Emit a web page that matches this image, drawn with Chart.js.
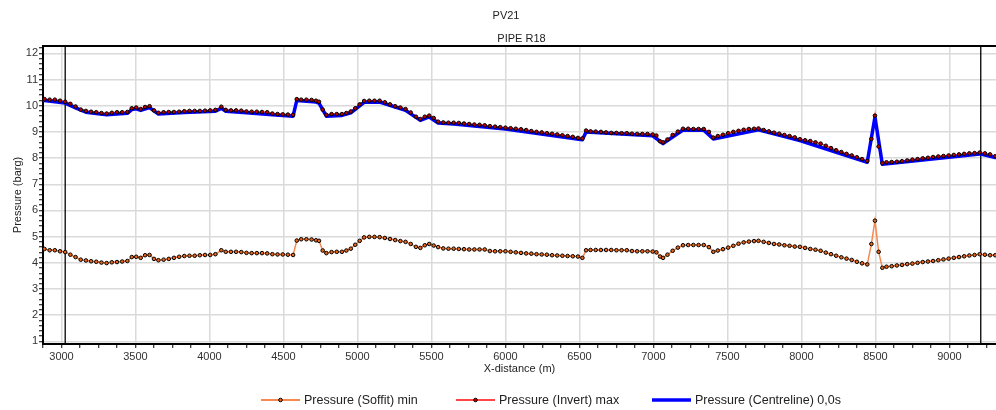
<!DOCTYPE html>
<html>
<head>
<meta charset="utf-8">
<title>PV21 - PIPE R18</title>
<script src="https://cdn.jsdelivr.net/npm/chart.js@4.4.1/dist/chart.umd.min.js"></script>
<style>
  html, body { margin: 0; padding: 0; background: #fff; overflow: hidden; }
  #wrap { width: 996px; height: 410px; position: relative; }
  #profil { display: block; }
</style>
</head>
<body>
<div id="wrap"><canvas id="profil"></canvas></div>
<script>
// --- texts ---
const chartTitle = "PV21";
const pipeName = "PIPE R18";
const xTitle = "X-distance (m)";
const yTitle = "Pressure (barg)";
const seriesNames = ["Pressure (Soffit) min", "Pressure (Invert) max", "Pressure (Centreline) 0,0s"];

// --- profile data (chainage in m, pressure in barg) ---
const distance = [
  2885, 2920, 2955, 2990, 3025, 3060, 3095, 3130, 3165, 3200,
  3235, 3270, 3305, 3340, 3375, 3410, 3445, 3475, 3505, 3535,
  3565, 3595, 3625, 3655, 3690, 3725, 3760, 3795, 3830, 3865,
  3900, 3935, 3970, 4005, 4040, 4080, 4110, 4145, 4180, 4215,
  4250, 4285, 4320, 4355, 4390, 4425, 4460, 4495, 4530, 4565,
  4590, 4620, 4655, 4690, 4720, 4740, 4765, 4790, 4825, 4860,
  4895, 4925, 4955, 4985, 5015, 5045, 5080, 5115, 5150, 5185,
  5220, 5255, 5290, 5325, 5360, 5395, 5425, 5455, 5485, 5515,
  5545, 5580, 5615, 5650, 5685, 5720, 5755, 5790, 5825, 5860,
  5895, 5930, 5965, 6000, 6035, 6070, 6105, 6140, 6175, 6210,
  6245, 6280, 6315, 6350, 6385, 6420, 6455, 6490, 6520, 6545,
  6575, 6610, 6645, 6680, 6715, 6750, 6785, 6820, 6855, 6890,
  6925, 6960, 6995, 7020, 7045, 7065, 7095, 7130, 7165, 7200,
  7235, 7270, 7305, 7340, 7375, 7405, 7435, 7470, 7505, 7540,
  7575, 7610, 7645, 7680, 7710, 7745, 7780, 7815, 7850, 7885,
  7920, 7955, 7990, 8025, 8060, 8095, 8130, 8165, 8200, 8235,
  8270, 8305, 8340, 8375, 8410, 8445, 8473, 8497, 8522, 8547,
  8575, 8610, 8645, 8680, 8715, 8750, 8785, 8820, 8855, 8890,
  8925, 8960, 8995, 9030, 9065, 9100, 9135, 9170, 9205, 9240,
  9275, 9310
];

const soffitMin = [
  4.53, 4.48, 4.48, 4.44, 4.41, 4.31, 4.22, 4.12, 4.09, 4.06,
  4.04, 4.01, 3.99, 4.02, 4.03, 4.05, 4.07, 4.22, 4.23, 4.19,
  4.29, 4.30, 4.15, 4.10, 4.12, 4.15, 4.19, 4.23, 4.26, 4.27,
  4.27, 4.29, 4.30, 4.30, 4.33, 4.48, 4.42, 4.42, 4.42, 4.41,
  4.38, 4.37, 4.37, 4.37, 4.36, 4.33, 4.32, 4.32, 4.31, 4.30,
  4.85, 4.90, 4.90, 4.89, 4.86, 4.84, 4.47, 4.37, 4.41, 4.42,
  4.42, 4.47, 4.54, 4.69, 4.84, 4.97, 4.99, 4.99, 4.98, 4.95,
  4.91, 4.87, 4.83, 4.80, 4.72, 4.61, 4.57, 4.67, 4.72, 4.66,
  4.60, 4.55, 4.54, 4.54, 4.53, 4.52, 4.51, 4.51, 4.51, 4.51,
  4.45, 4.44, 4.44, 4.44, 4.42, 4.40, 4.38, 4.36, 4.35, 4.33,
  4.32, 4.31, 4.29, 4.28, 4.27, 4.26, 4.25, 4.24, 4.19, 4.48,
  4.49, 4.49, 4.49, 4.49, 4.49, 4.48, 4.48, 4.48, 4.45, 4.44,
  4.44, 4.44, 4.43, 4.40, 4.24, 4.19, 4.31, 4.46, 4.58, 4.67,
  4.68, 4.68, 4.68, 4.68, 4.60, 4.42, 4.47, 4.52, 4.58, 4.65,
  4.73, 4.78, 4.81, 4.83, 4.84, 4.80, 4.76, 4.72, 4.70, 4.67,
  4.65, 4.62, 4.61, 4.57, 4.53, 4.50, 4.46, 4.39, 4.33, 4.27,
  4.21, 4.16, 4.11, 4.04, 3.98, 3.94, 4.72, 5.61, 4.42, 3.81,
  3.85, 3.87, 3.90, 3.92, 3.95, 3.97, 4.00, 4.03, 4.05, 4.07,
  4.10, 4.13, 4.16, 4.19, 4.22, 4.25, 4.28, 4.30, 4.33, 4.31,
  4.29, 4.29
];

const invertMax = [
  10.25, 10.23, 10.23, 10.19, 10.15, 10.07, 9.97, 9.85, 9.80, 9.77,
  9.75, 9.72, 9.70, 9.73, 9.75, 9.75, 9.76, 9.90, 9.93, 9.87,
  9.95, 9.98, 9.82, 9.73, 9.75, 9.76, 9.76, 9.77, 9.79, 9.80,
  9.80, 9.80, 9.81, 9.82, 9.84, 9.96, 9.84, 9.82, 9.82, 9.81,
  9.78, 9.77, 9.77, 9.76, 9.75, 9.70, 9.68, 9.67, 9.66, 9.65,
  10.25, 10.23, 10.23, 10.22, 10.19, 10.15, 9.85, 9.65, 9.68, 9.68,
  9.68, 9.72, 9.78, 9.90, 10.05, 10.18, 10.19, 10.19, 10.19, 10.13,
  10.05, 9.98, 9.93, 9.87, 9.74, 9.58, 9.49, 9.58, 9.62, 9.53,
  9.39, 9.36, 9.35, 9.35, 9.34, 9.32, 9.30, 9.28, 9.27, 9.25,
  9.22, 9.20, 9.18, 9.16, 9.14, 9.12, 9.10, 9.07, 9.03, 9.00,
  8.98, 8.95, 8.93, 8.90, 8.87, 8.84, 8.81, 8.77, 8.75, 9.05,
  9.02, 9.01, 9.00, 8.98, 8.96, 8.96, 8.95, 8.95, 8.93, 8.92,
  8.92, 8.92, 8.90, 8.86, 8.64, 8.60, 8.71, 8.88, 9.01, 9.12,
  9.12, 9.11, 9.11, 9.11, 9.00, 8.78, 8.84, 8.89, 8.95, 9.00,
  9.04, 9.08, 9.11, 9.12, 9.13, 9.07, 9.02, 8.97, 8.93, 8.88,
  8.84, 8.79, 8.72, 8.68, 8.65, 8.60, 8.55, 8.47, 8.38, 8.30,
  8.23, 8.16, 8.10, 8.03, 7.96, 7.89, 8.73, 9.62, 8.44, 7.81,
  7.84, 7.85, 7.86, 7.88, 7.91, 7.94, 7.96, 7.99, 8.01, 8.04,
  8.06, 8.08, 8.10, 8.12, 8.14, 8.16, 8.18, 8.19, 8.21, 8.18,
  8.14, 8.07
];

// centreline at t = 0,0s (polyline vertices)
const centreDistance = [
  2885, 3025, 3095, 3165, 3305, 3445, 3475, 3505, 3535, 3595,
  3655, 3830, 4040, 4080, 4110, 4250, 4425, 4565, 4590, 4720,
  4740, 4790, 4895, 4955, 5045, 5150, 5325, 5425, 5485, 5545,
  5650, 6000, 6520, 6545, 6995, 7065, 7200, 7340, 7405, 7710,
  7990, 8445, 8497, 8547, 9205, 9310
];
const centreline = [
  10.20, 10.10, 9.92, 9.75, 9.65, 9.71, 9.85, 9.88, 9.82, 9.93,
  9.68, 9.74, 9.79, 9.90, 9.79, 9.73, 9.65, 9.60, 10.20, 10.14,
  10.10, 9.60, 9.63, 9.73, 10.13, 10.14, 9.82, 9.44, 9.57, 9.34,
  9.30, 9.11, 8.70, 9.00, 8.85, 8.55, 9.07, 9.06, 8.73, 9.08,
  8.67, 7.84, 9.57, 7.76, 8.16, 8.02
];

// section boundaries shown as black verticals
const markerLines = [3025, 9212];

const xRange = [2875, 9315];
const yRange = [0.9, 12.28];
const xMajor = 500, xMinor = 125;
const yMinor = 0.2;

const FONT = '"Liberation Sans", Arial, Helvetica, sans-serif';
Chart.defaults.font.family = FONT;

const pts = (xs, ys) => xs.map((d, i) => ({ x: d, y: ys[i] }));
const isWhole = v => Math.abs(v - Math.round(v)) < 1e-6;

const colours = {
  soffitLine: "#f7894f",
  soffitPoint: "#e8661c",
  invertLine: "#ff4545",
  invertPoint: "#b80000",
  centre: "#0000ff",
  grid: "#dadada",
  text: "#333"
};

// titles, top frame, section lines and legend
const decor = {
  id: "decor",
  beforeDatasetsDraw(chart) {
    const { ctx, chartArea: a, scales: { x } } = chart;
    ctx.save();
    ctx.strokeStyle = "#000";
    ctx.lineWidth = 1.3;
    markerLines.forEach(d => {
      const px = x.getPixelForValue(d);
      ctx.beginPath();
      ctx.moveTo(px, a.top);
      ctx.lineTo(px, a.bottom);
      ctx.stroke();
    });
    ctx.restore();
  },
  afterDraw(chart) {
    const { ctx, chartArea: a } = chart;
    ctx.save();
    // frame top
    ctx.strokeStyle = "#000";
    ctx.lineWidth = 2;
    ctx.beginPath();
    ctx.moveTo(a.left, a.top);
    ctx.lineTo(a.right, a.top);
    ctx.stroke();

    ctx.fillStyle = "#222";
    ctx.textAlign = "center";
    ctx.textBaseline = "middle";
    ctx.font = "11px " + FONT;
    ctx.fillText(chartTitle, 506, 16);
    ctx.fillText(pipeName, (a.left + a.right) / 2 + 2, 39);

    // legend
    const legend = [
      { x: 261, line: colours.soffitLine, lw: 2, point: colours.soffitPoint },
      { x: 456, line: colours.invertLine, lw: 2, point: colours.invertPoint },
      { x: 652, line: colours.centre, lw: 3.5, point: null }
    ];
    const ly = 400;
    ctx.font = "12.5px " + FONT;
    ctx.textAlign = "left";
    legend.forEach((it, i) => {
      ctx.strokeStyle = it.line;
      ctx.lineWidth = it.lw;
      ctx.beginPath();
      ctx.moveTo(it.x, ly);
      ctx.lineTo(it.x + 39, ly);
      ctx.stroke();
      if (it.point) {
        ctx.beginPath();
        ctx.arc(it.x + 19.5, ly, 1.8, 0, Math.PI * 2);
        ctx.fillStyle = it.point;
        ctx.fill();
        ctx.lineWidth = 1;
        ctx.strokeStyle = "#000";
        ctx.stroke();
      }
      ctx.fillStyle = "#222";
      ctx.fillText(seriesNames[i], it.x + 43, ly + 1);
    });
    ctx.restore();
  }
};

const tickFont = { family: FONT, size: 11 };

new Chart(document.getElementById("profil"), {
  type: "line",
  data: {
    datasets: [
      {
        label: seriesNames[0],
        data: pts(distance, soffitMin),
        borderColor: colours.soffitLine,
        borderWidth: 1.5,
        pointRadius: 1.8,
        pointBackgroundColor: colours.soffitPoint,
        pointBorderColor: "#000",
        pointBorderWidth: 1,
        order: 1
      },
      {
        label: seriesNames[1],
        data: pts(distance, invertMax),
        borderColor: colours.invertLine,
        borderWidth: 1.5,
        pointRadius: 0,
        order: 4
      },
      {
        label: seriesNames[2],
        data: pts(centreDistance, centreline),
        borderColor: colours.centre,
        borderWidth: 3.5,
        borderJoinStyle: "round",
        borderCapStyle: "round",
        pointRadius: 0,
        order: 3
      },
      {
        // invert markers sit on top of the centreline
        label: seriesNames[1] + " pts",
        data: pts(distance, invertMax),
        showLine: false,
        pointRadius: 1.8,
        pointBackgroundColor: colours.invertPoint,
        pointBorderColor: "#000",
        pointBorderWidth: 1,
        order: 2
      }
    ]
  },
  options: {
    animation: false,
    responsive: true,
    maintainAspectRatio: false,
    layout: { autoPadding: false, padding: { top: 46, left: 0, right: 0, bottom: 0 } },
    elements: { line: { tension: 0 } },
    plugins: {
      legend: { display: false },
      title: { display: false },
      tooltip: { enabled: false }
    },
    scales: {
      x: {
        type: "linear",
        min: xRange[0],
        max: xRange[1],
        border: { color: "#000", width: 2 },
        grid: {
          color: c => (c.tick && c.tick.value % xMajor === 0 ? colours.grid : "rgba(0,0,0,0)"),
          lineWidth: 1.5,
          tickColor: "#000",
          tickLength: 4,
          tickWidth: 1
        },
        ticks: {
          stepSize: xMinor,
          autoSkip: false,
          includeBounds: false,
          maxRotation: 0,
          minRotation: 0,
          color: colours.text,
          font: tickFont,
          padding: 2,
          callback: v => (v % xMajor === 0 ? String(v) : "")
        },
        title: {
          display: true,
          text: xTitle,
          color: "#222",
          font: tickFont,
          padding: { top: 0, bottom: 34 }
        },
        afterFit: s => { s.height = 66; }
      },
      y: {
        type: "linear",
        min: yRange[0],
        max: yRange[1],
        border: { color: "#000", width: 2 },
        grid: {
          color: c => (c.tick && isWhole(c.tick.value) ? colours.grid : "rgba(0,0,0,0)"),
          lineWidth: 1.5,
          tickColor: "#000",
          tickLength: 4,
          tickWidth: 1
        },
        ticks: {
          stepSize: yMinor,
          autoSkip: false,
          includeBounds: false,
          color: colours.text,
          font: tickFont,
          padding: 1,
          callback: v => (isWhole(v) ? String(Math.round(v)) : "")
        },
        title: {
          display: true,
          text: yTitle,
          color: "#222",
          font: tickFont,
          padding: { top: 11, bottom: 0 }
        },
        afterFit: s => { s.width = 43; }
      }
    }
  },
  plugins: [decor]
});
</script>
</body>
</html>
